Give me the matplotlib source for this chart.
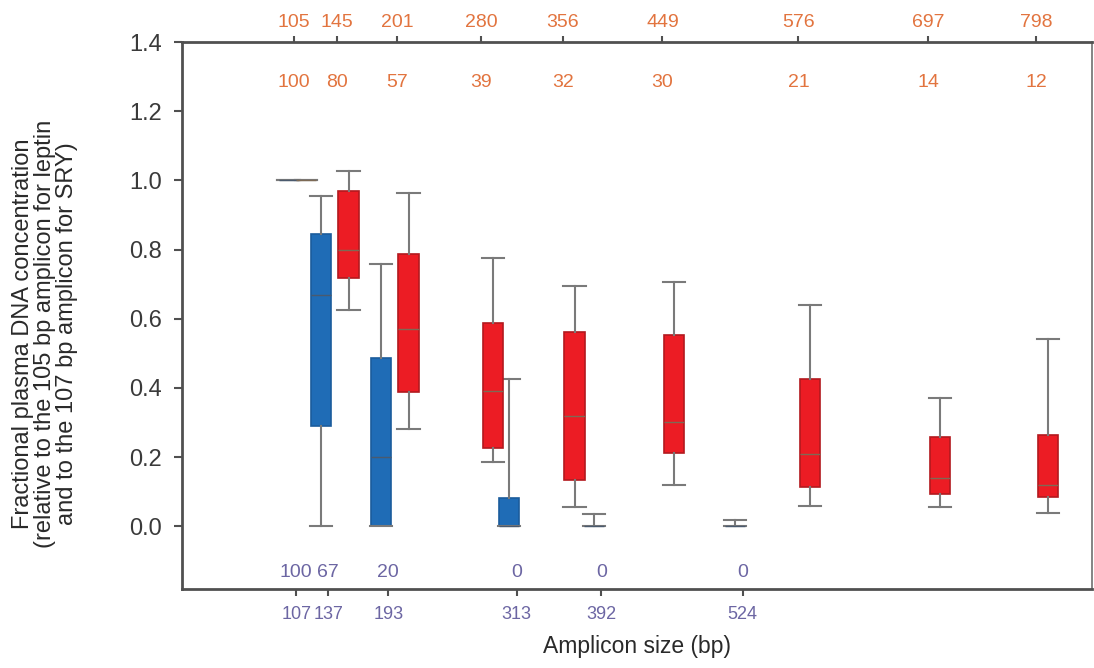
import matplotlib
matplotlib.use('Agg')
import matplotlib.pyplot as plt

plt.rcParams['font.family'] = ['Liberation Sans', 'DejaVu Sans']

# ---- Leptin amplicons (red) ----
leptin_sizes = [105, 145, 201, 280, 356, 449, 576, 697, 798]
leptin_pct = [100, 80, 57, 39, 32, 30, 21, 14, 12]
leptin_whislo = [1.0, 0.625, 0.281, 0.185, 0.055, 0.119, 0.058, 0.055, 0.038]
leptin_q1 = [1.0, 0.717, 0.388, 0.226, 0.133, 0.211, 0.113, 0.093, 0.084]
leptin_q3 = [1.0, 0.969, 0.787, 0.587, 0.561, 0.552, 0.425, 0.258, 0.263]
leptin_whishi = [1.0, 1.027, 0.963, 0.775, 0.694, 0.706, 0.639, 0.37, 0.54]

# ---- SRY amplicons (blue) ----
sry_sizes = [107, 137, 193, 313, 392, 524]
sry_pct = [100, 67, 20, 0, 0, 0]
sry_whislo = [1.0, 0.0, 0.0, 0.0, 0.0, 0.0]
sry_q1 = [1.0, 0.289, 0.0, 0.0, 0.0, 0.0]
sry_q3 = [1.0, 0.845, 0.486, 0.081, 0.0, 0.0]
sry_whishi = [1.0, 0.955, 0.758, 0.425, 0.035, 0.018]

ORANGE = '#e2743f'
PURPLE = '#6c66a3'
GREY = '#505050'
BOX_W = 19


def make_stats(pct, lo, q1, q3, hi):
    return [{'med': p / 100.0, 'q1': a, 'q3': b, 'whislo': l, 'whishi': h, 'fliers': []}
            for p, l, a, b, h in zip(pct, lo, q1, q3, hi)]


fig = plt.figure(figsize=(10.94, 6.68), dpi=100)
ax = fig.add_axes([0.166, 0.118, 0.832, 0.819])

whisk = dict(color='#7a7a7a', linewidth=1.5)

ax.bxp(make_stats(sry_pct, sry_whislo, sry_q1, sry_q3, sry_whishi),
       positions=[s - 7 for s in sry_sizes], widths=BOX_W, capwidths=BOX_W * 1.1,
       patch_artist=True, showfliers=False, manage_ticks=False,
       boxprops=dict(facecolor='#1f6cb6', edgecolor='#1b5c9c', linewidth=1.2),
       medianprops=dict(color='#4a5a6e', linewidth=1.0),
       whiskerprops=whisk, capprops=whisk)

ax.bxp(make_stats(leptin_pct, leptin_whislo, leptin_q1, leptin_q3, leptin_whishi),
       positions=[s + 11 for s in leptin_sizes], widths=BOX_W, capwidths=BOX_W * 1.1,
       patch_artist=True, showfliers=False, manage_ticks=False,
       boxprops=dict(facecolor='#ec1c24', edgecolor='#b3191e', linewidth=1.2),
       medianprops=dict(color='#7d6a55', linewidth=1.0),
       whiskerprops=whisk, capprops=whisk)

# percentages of the shortest amplicon, written inside the frame
for s, p in zip(leptin_sizes, leptin_pct):
    ax.text(s, 1.284, str(p), color=ORANGE, fontsize=14, ha='center', va='center')
for s, p in zip(sry_sizes, sry_pct):
    ax.text(s, -0.133, str(p), color=PURPLE, fontsize=14, ha='center', va='center')

ax.set_xlim(0, 850)
ax.set_ylim(-0.182, 1.4)
ax.set_yticks([0.0, 0.2, 0.4, 0.6, 0.8, 1.0, 1.2, 1.4])
ax.set_yticklabels([f'{v:.1f}' for v in ax.get_yticks()])

ax.set_xticks(sry_sizes)
ax.set_xticklabels([str(s) for s in sry_sizes])
ax.tick_params(axis='x', colors=PURPLE, labelsize=13, length=5, width=1.5, pad=7)
ax.tick_params(axis='x', color=GREY)
ax.tick_params(axis='y', colors='#3a3a3a', labelsize=17, length=6, width=1.5, pad=8)
ax.tick_params(axis='y', color=GREY)

top = ax.secondary_xaxis('top')
top.set_xticks(leptin_sizes)
top.set_xticklabels([str(s) for s in leptin_sizes])
top.tick_params(axis='x', colors=ORANGE, labelsize=14, length=4, width=1.5, pad=4)
top.tick_params(axis='x', color=GREY)
top.spines['top'].set_visible(False)

for side in ['left', 'bottom', 'top']:
    ax.spines[side].set_color(GREY)
    ax.spines[side].set_linewidth(2.0)
ax.spines['right'].set_color('#707070')
ax.spines['right'].set_linewidth(1.2)

ax.set_xlabel('Amplicon size (bp)', fontsize=16.5, color='#2a2a2a', labelpad=9)
fig.text(0.041, 0.5,
         'Fractional plasma DNA concentration\n'
         '(relative to the 105 bp amplicon for leptin\n'
         'and to the 107 bp amplicon for SRY)',
         rotation=90, ha='center', va='center', multialignment='center',
         fontsize=17, color='#2a2a2a', linespacing=1.0)

fig.savefig('out.png', dpi=100)
